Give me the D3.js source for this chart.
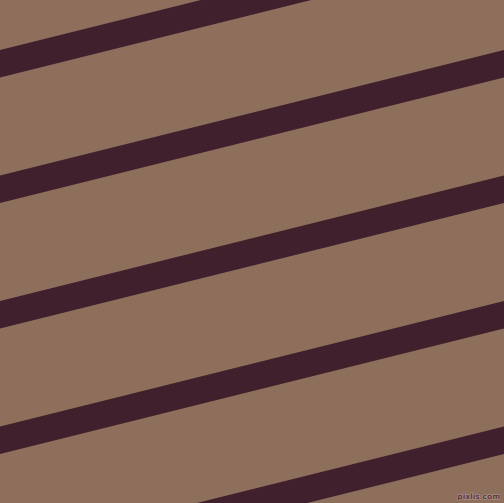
<!DOCTYPE html>
<html>
<head>
<meta charset="utf-8">
<script src="https://cdn.jsdelivr.net/npm/d3@7"></script>
<style>
html,body{margin:0;padding:0;background:#8e6f5b;overflow:hidden;}
svg{display:block;}
</style>
</head>
<body>
<script>
// Stripe data: intercept (value at x=0) of each stripe's upper edge, in data units
const stripeIntercepts = [-75.5, 50, 175.5, 301, 426.5, 552];
const stripeSlope = [-0.249];
const stripeBand = [27.5];
const watermark = ["pixlis.com"];

const W = 504, H = 503;
const x = d3.scaleLinear().domain([0, 504]).range([0, W]);
const y = d3.scaleLinear().domain([0, 503]).range([0, H]);

const svg = d3.select("body").append("svg").attr("width", W).attr("height", H);
svg.append("rect").attr("width", W).attr("height", H).attr("fill", "#8e6f5b");

const s = stripeSlope[0], t = stripeBand[0];
svg.selectAll("path.stripe").data(stripeIntercepts).enter().append("path")
  .attr("class", "stripe")
  .attr("fill", "#41202d")
  .attr("d", b => {
    const x0 = -10, x1 = 514;
    const pts = [
      [x(x0), y(b + s * x0)],
      [x(x1), y(b + s * x1)],
      [x(x1), y(b + t + s * x1)],
      [x(x0), y(b + t + s * x0)]
    ];
    return d3.line()(pts) + "Z";
  });

svg.append("text").text(watermark[0])
  .attr("x", 500).attr("y", 498.5)
  .attr("text-anchor", "end")
  .attr("font-family", "DejaVu Sans, sans-serif")
  .attr("font-size", 7.5)
  .attr("font-weight", "bold")
  .attr("fill", "#5a3a44")
  .attr("stroke", "#b89c8c").attr("stroke-width", 1).attr("paint-order", "stroke");
</script>
</body>
</html>
